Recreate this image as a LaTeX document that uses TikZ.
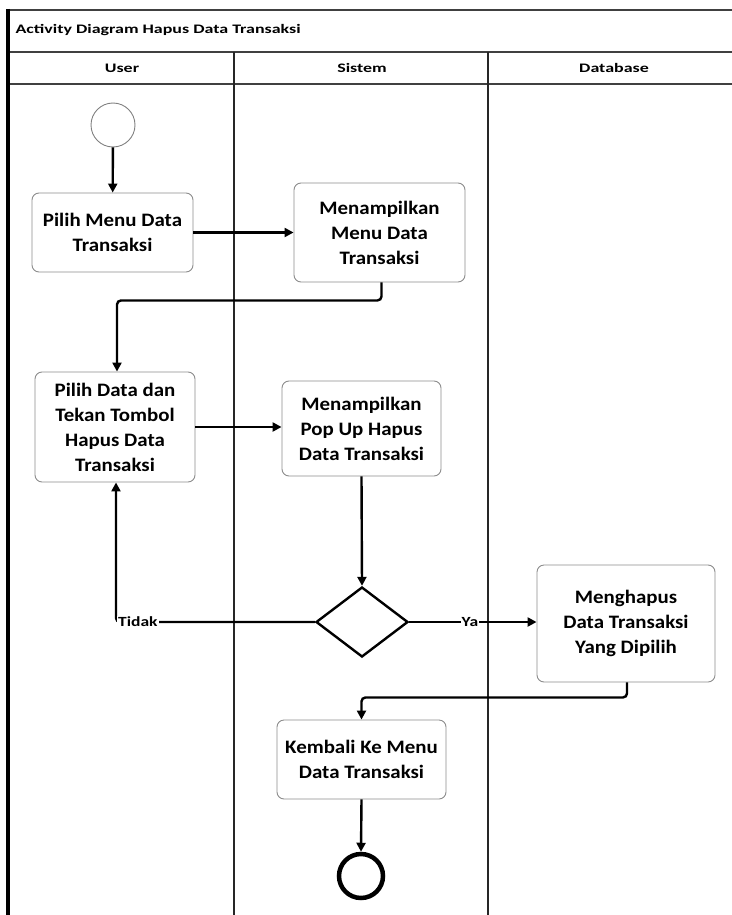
\documentclass[tikz,border=0pt]{standalone}
\usepackage{fontspec}
\setmainfont{Carlito}
\newfontfamily\headfont[FakeStretch=1.38]{Carlito}
\newfontfamily\guardfont[FakeStretch=1.25]{Carlito}
\newfontfamily\actfont[FakeStretch=1.1]{Carlito}
\usetikzlibrary{arrows.meta,shapes.geometric}
\tikzset{
  lane/.style={line width=2.6pt, black!85},
  frame/.style={line width=1.8pt, black!75},
  act/.style={draw=black!45, line width=0.9pt, rounded corners=7pt, fill=white,
    align=center, inner sep=0pt, font=\actfont\bfseries\fontsize{19}{25}\selectfont},
  decision/.style={diamond, draw, line width=2.4pt, inner sep=0pt,
    minimum width=92pt, minimum height=70pt},
  flow/.style={line width=2.4pt, rounded corners=4pt,
    -{Triangle[length=9pt,width=9pt]}},
  guard/.style={fill=white, inner sep=1pt, font=\guardfont\bfseries\fontsize{14}{16}\selectfont},
  head/.style={font=\headfont\bfseries\fontsize{13}{15}\selectfont},
}
\begin{document}
\begin{tikzpicture}[x=1pt,y=-1pt]
  \useasboundingbox (0,0) rectangle (731,915);

  % swimlane frame
  \draw[frame] (8,10) -- (735,10);
  \draw[frame] (8,52) -- (735,52);
  \draw[frame] (8,84) -- (735,84);
  \draw[line width=3.4pt] (8,9) -- (8,918);
  \draw[lane] (234,52) -- (234,918);
  \draw[lane] (488,52) -- (488,918);

  \node[head, anchor=west] (title) at (12,30) {Activity Diagram Hapus Data Transaksi};
  \node[head] (hUser) at (122,68) {User};
  \node[head] (hSistem) at (362,68) {Sistem};
  \node[head] (hDb) at (614,68) {Database};

  % activities
  \node[circle, draw=black!50, line width=0.9pt, minimum size=44pt, inner sep=0pt] (start) at (113,125) {};
  \node[act, minimum width=161pt, minimum height=79pt] (n1) at (112.5,232.5) {Pilih Menu Data\\Transaksi};
  \node[act, minimum width=171pt, minimum height=99pt] (n2) at (379.5,232.5) {Menampilkan\\Menu Data\\Transaksi};
  \node[act, minimum width=160pt, minimum height=110pt] (n3) at (115,427) {Pilih Data dan\\Tekan Tombol\\Hapus Data\\Transaksi};
  \node[act, minimum width=159pt, minimum height=95pt] (n4) at (361.5,428.5) {Menampilkan\\Pop Up Hapus\\Data Transaksi};
  \node[decision] (dec) at (362,622) {};
  \node[act, minimum width=178pt, minimum height=117pt] (n5) at (626,623.5) {Menghapus\\Data Transaksi\\Yang Dipilih};
  \node[act, minimum width=169pt, minimum height=79pt] (n6) at (361.5,759.5) {Kembali Ke Menu\\Data Transaksi};
  \node[circle, draw, line width=4.5pt, minimum size=44pt, inner sep=0pt] (stop) at (361,876) {};

  % control flow
  \draw[flow] (start) -- (n1);
  \draw[flow] (n1.east) -- (n1.east -| n2.west);
  \draw[flow] ([xshift=2pt]n2.south) -- ++(0,18) -| ([xshift=2pt]n3.north);
  \draw[flow] (n3.east) -- (n3.east -| n4.west);
  \draw[flow] (n4.south) -- (dec.north);
  \draw[flow] (dec.west) -| coordinate (tcorner) ([xshift=1pt]n3.south);
  \node[guard, anchor=west] (tidak) at ([xshift=1pt]tcorner) {Tidak};
  \draw[flow] (dec.east) -- (n5.west |- dec.east);
  \node[guard] (ya) at (470,622) {Ya};
  \draw[flow] ([xshift=1pt]n5.south) -- ++(0,15) -| (n6.north);
  \draw[flow] (n6.south) -- (stop.north);
\end{tikzpicture}
\end{document}
